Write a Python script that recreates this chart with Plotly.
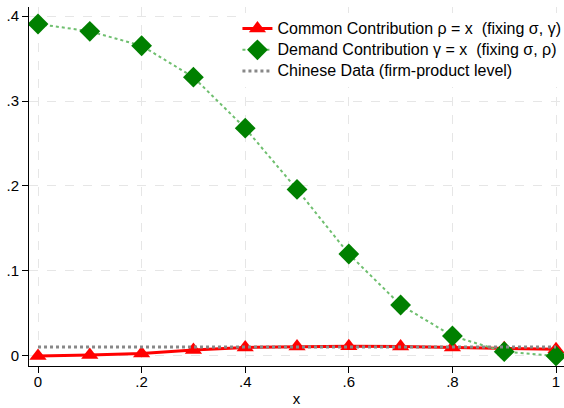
import plotly.graph_objects as go

x_vals = [0, 0.1, 0.2, 0.3, 0.4, 0.5, 0.6, 0.7, 0.8, 0.9, 1.0]
common = [0.0, 0.001, 0.003, 0.007, 0.010, 0.011, 0.0115, 0.011, 0.010, 0.009, 0.008]
demand = [0.3906, 0.382, 0.365, 0.328, 0.268, 0.196, 0.120, 0.060, 0.0235, 0.005, 0.0]
chinese_x = [0, 1]
chinese = [0.0105, 0.0105]

names = ["Common Contribution ρ = x  (fixing σ, γ)",
         "Demand Contribution γ = x  (fixing σ, ρ)",
         "Chinese Data (firm-product level)"]

xtick_vals = [0, 0.2, 0.4, 0.6, 0.8, 1.0]
xtick_text = ["0", ".2", ".4", ".6", ".8", "1"]
ytick_vals = [0, 0.1, 0.2, 0.3, 0.4]
ytick_text = ["0", ".1", ".2", ".3", ".4"]


def big(s):
    return '<span style="font-size:16px">' + s + '</span>'


fig = go.Figure()
fig.add_trace(go.Scatter(
    x=x_vals, y=common, mode="lines+markers", name=big(names[0]),
    line=dict(color="#ff0000", width=3),
    marker=dict(symbol="triangle-up", size=15, color="#ff0000"),
))
fig.add_trace(go.Scatter(
    x=x_vals, y=demand, mode="lines+markers", name=big(names[1]),
    line=dict(color="#6fbf6f", width=2, dash="dot"),
    marker=dict(symbol="diamond", size=16, color="#008000"),
))
fig.add_trace(go.Scatter(
    x=chinese_x, y=chinese, mode="lines", name=big(names[2]),
    line=dict(color="#888888", width=3, dash="dot"),
))

axis_common = dict(
    showline=True, linecolor="black", linewidth=1,
    ticks="outside", ticklen=6, tickcolor="black",
    showgrid=True, gridcolor="#e6e6e6", griddash="dash", gridwidth=1,
    zeroline=False, automargin=False,
    tickfont=dict(family="Liberation Sans, Arial", size=15, color="black"),
)

fig.update_layout(
    width=564, height=408,
    margin=dict(l=29, r=0, t=7, b=42, autoexpand=False),
    paper_bgcolor="white", plot_bgcolor="white",
    font=dict(family="Liberation Sans, Arial", size=14, color="black"),
    xaxis=dict(range=[-0.0174, 1.0154], tickvals=xtick_vals, ticktext=xtick_text,
               ticklabelstandoff=-4,
               title=dict(text="x", font=dict(size=15), standoff=4), **axis_common),
    yaxis=dict(range=[-0.0118, 0.4106], tickvals=ytick_vals, ticktext=ytick_text,
               **axis_common),
    legend=dict(x=0.421, y=1 - 13 / 408, xref="container", yref="container",
                xanchor="left", yanchor="top",
                bgcolor="white", font=dict(size=14),
                tracegroupgap=0, itemwidth=30),
    showlegend=True,
)

fig.write_html("out.html", config={"displayModeBar": False},
               post_script="document.body.style.margin='0px';")
